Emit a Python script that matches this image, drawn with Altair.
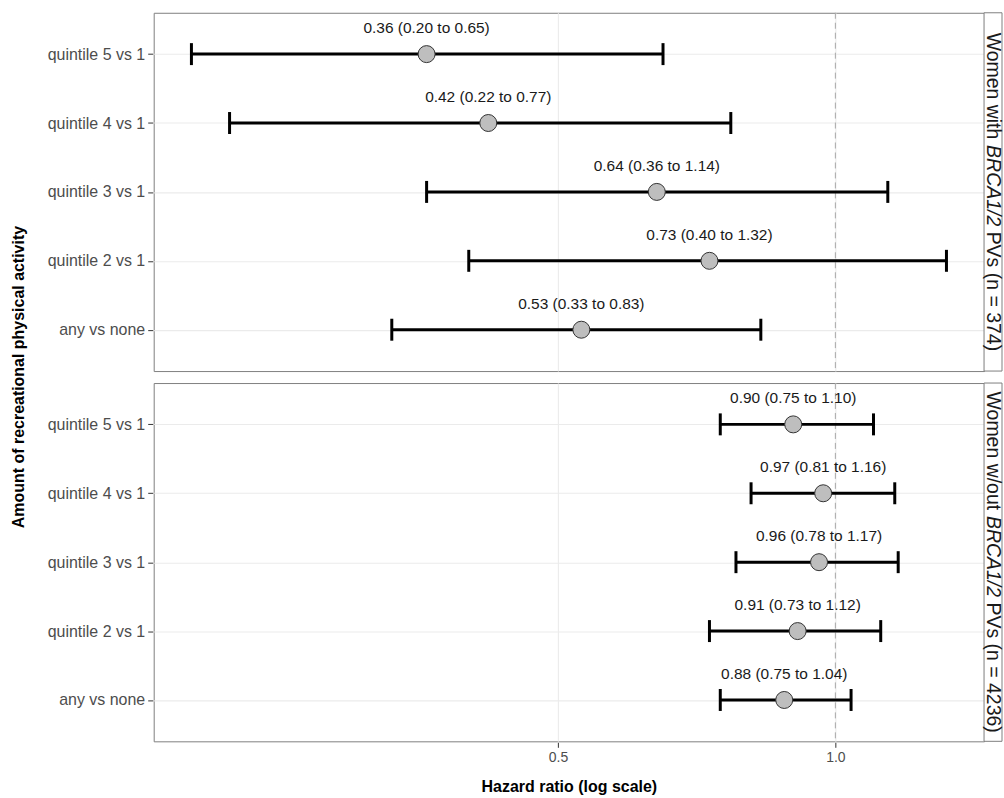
import altair as alt
import pandas as pd

# ---------------- data ----------------
categories = ["quintile 5 vs 1", "quintile 4 vs 1", "quintile 3 vs 1",
              "quintile 2 vs 1", "any vs none"]
panels = ["Women with BRCA1/2 PVs (n = 374)", "Women w/out BRCA1/2 PVs (n = 4236)"]

carrier_hr = [0.36, 0.42, 0.64, 0.73, 0.53]
carrier_lo = [0.20, 0.22, 0.36, 0.40, 0.33]
carrier_hi = [0.65, 0.77, 1.14, 1.32, 0.83]

noncarrier_hr = [0.90, 0.97, 0.96, 0.91, 0.88]
noncarrier_lo = [0.75, 0.81, 0.78, 0.73, 0.75]
noncarrier_hi = [1.10, 1.16, 1.17, 1.12, 1.04]

x_ticks = [0.5, 1.0]
x_domain = [0.182, 1.45]

# strip label pieces (middle piece italic)
strip_pieces = [("Women with", "BRCA1/2", "PVs (n = 374)"),
                ("Women w/out", "BRCA1/2", "PVs (n = 4236)")]

rows = []
for p, (hr, lo, hi) in enumerate([(carrier_hr, carrier_lo, carrier_hi),
                                  (noncarrier_hr, noncarrier_lo, noncarrier_hi)]):
    for i, c in enumerate(categories):
        rows.append(dict(panel=panels[p], pidx=p, cat=c, idx=i,
                         hr=hr[i], lo=lo[i], hi=hi[i],
                         label=f"{hr[i]:.2f} ({lo[i]:.2f} to {hi[i]:.2f})"))
df = pd.DataFrame(rows)

# ---------------- layout ----------------
W, H = 832, 359
STRIP = 18
FONT = "Liberation Sans"
STRIP_FS = 19.5

# Arial/Liberation Sans advance widths (em)
CW = {'W': .944, 'o': .556, 'm': .833, 'e': .556, 'n': .556, ' ': .278, 'w': .722,
      'i': .222, 't': .278, 'h': .556, '/': .278, 'u': .556, 'B': .667, 'R': .722,
      'C': .722, 'A': .667, '1': .556, '2': .556, 'P': .667, 'V': .667, 's': .5,
      '(': .333, ')': .333, '=': .584, '3': .556, '7': .556, '4': .556, '6': .556}


def tw(s):
    return sum(CW.get(ch, .556) for ch in s) * STRIP_FS


xscale = alt.Scale(type="log", domain=x_domain, nice=False, zero=False)
xaxis = alt.Axis(values=x_ticks, format=".1f", title="Hazard ratio (log scale)")
yaxis = alt.Axis(title=None)
yscale = alt.Scale(type="point", padding=0.6)


def Y():
    return alt.Y("cat:N", sort=categories, scale=yscale, axis=yaxis)


def X(field):
    return alt.X(field, type="quantitative", scale=xscale, axis=xaxis)


base = alt.Chart()

dashed = base.mark_rule(color="#a8a8a8", strokeDash=[6, 4], strokeWidth=1).encode(
    x=X("one")
).transform_filter("datum.idx == 0").transform_calculate(one="1.0")

ci = base.mark_rule(color="black", strokeWidth=3).encode(
    x=X("lo"), x2="hi:Q", y=Y())
cap_lo = base.mark_tick(color="black", thickness=3, size=22, opacity=1).encode(
    x=X("lo"), y=Y())
cap_hi = base.mark_tick(color="black", thickness=3, size=22, opacity=1).encode(
    x=X("hi"), y=Y())
pts = base.mark_circle(color="#bebebe", stroke="#333333", strokeWidth=1,
                       size=290, opacity=1).encode(x=X("hr"), y=Y())
txt = base.mark_text(dy=-26, fontSize=15.5, font=FONT, color="#1a1a1a").encode(
    x=X("hr"), y=Y(), text="label:N")

strip_rect = base.mark_rect(fill="white", stroke="#7f7f7f", strokeWidth=1).encode(
    x=alt.value(W), x2=alt.value(W + STRIP), y=alt.value(0), y2=alt.value(H)
).transform_filter("datum.idx == 0")

layers = [dashed, ci, cap_lo, cap_hi, pts, txt, strip_rect]

for p, (a, b, c) in enumerate(strip_pieces):
    sp = CW[' '] * STRIP_FS
    total = tw(a) + sp + tw(b) + sp + tw(c)
    y0 = H / 2 - total / 2
    starts = [y0, y0 + tw(a) + sp, y0 + tw(a) + sp + tw(b) + sp]
    for piece, ys, style in zip((a, b, c), starts, ("normal", "italic", "normal")):
        layers.append(
            base.mark_text(angle=90, align="left", baseline="middle", fontSize=STRIP_FS,
                           font=FONT, fontStyle=style, color="#1a1a1a").encode(
                x=alt.value(W + STRIP / 2), y=alt.value(ys), text=alt.value(piece)
            ).transform_filter(f"datum.idx == 0 && datum.pidx == {p}")
        )

chart = alt.layer(*layers, data=df).properties(width=W, height=H).facet(
    row=alt.Row("panel:N", sort=panels,
                title="Amount of recreational physical activity",
                header=alt.Header(labels=False, titleFont=FONT, titleFontSize=16,
                                  titleFontWeight="bold", titleColor="black",
                                  titleOrient="left", titlePadding=10)),
    spacing=10,
).properties(
    padding={"left": 10, "top": 11, "right": 0, "bottom": 5},
).configure(font=FONT, background="white").configure_view(
    stroke="#7f7f7f", strokeWidth=1
).configure_axis(
    grid=True, gridColor="#ebebeb", gridWidth=1.1, domain=False,
    tickColor="#333333", tickSize=5, tickWidth=1,
    labelColor="#4d4d4d", labelFont=FONT,
    titleFont=FONT, titleColor="black", titleFontWeight="bold", titleFontSize=16,
).configure_axisY(
    labelFontSize=16, labelPadding=3,
).configure_axisX(
    labelFontSize=14, labelPadding=3, titlePadding=14,
)

chart.save("out.html", embed_options={"renderer": "svg", "actions": False})
